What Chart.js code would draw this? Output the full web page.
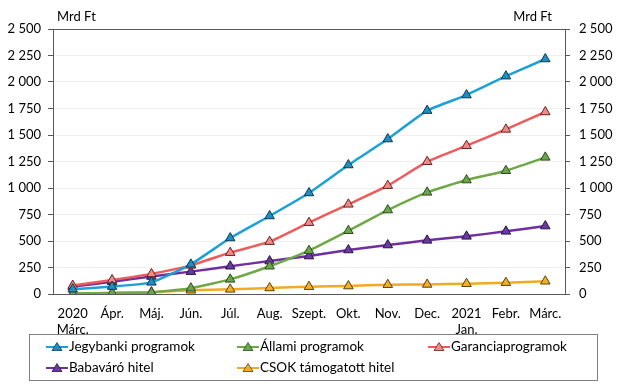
<!DOCTYPE html>
<html>
<head>
<meta charset="utf-8">
<script src="https://cdn.jsdelivr.net/npm/chart.js@4"></script>
<style>
  html, body { margin: 0; padding: 0; background: #fff; }
  #wrap { width: 619px; height: 387px; position: relative; }
</style>
</head>
<body>
<div id="wrap"><canvas id="myChart"></canvas></div>
<script>
const months = [['2020', 'Márc.'], 'Ápr.', 'Máj.', 'Jún.', 'Júl.', 'Aug.', 'Szept.', 'Okt.', 'Nov.', 'Dec.', ['2021', 'Jan.'], 'Febr.', 'Márc.'];

const jegybanki = [45, 70, 110, 280, 528, 736, 953, 1217, 1462, 1730, 1877, 2055, 2217];
const allami    = [5, 10, 15, 55, 138, 262, 409, 597, 792, 959, 1075, 1163, 1289];
const garancia  = [80, 132, 190, 270, 390, 494, 673, 846, 1022, 1248, 1399, 1553, 1717];
const babavaro  = [70, 116, 165, 211, 262, 311, 358, 415, 462, 506, 544, 591, 641];
const csok      = [5, 10, 18, 35, 44, 57, 69, 75, 88, 90, 97, 107, 120];

const yTicks = [0, 250, 500, 750, 1000, 1250, 1500, 1750, 2000, 2250, 2500];

const fontFam = 'Lato, "Open Sans", sans-serif';

function fmt(v) {
  return String(v).replace(/\B(?=(\d{3})+(?!\d))/g, ' ');
}

function series(label, data, line, fill, edge) {
  return {
    label: label,
    data: data,
    borderColor: line,
    backgroundColor: fill,
    pointBackgroundColor: fill,
    pointBorderColor: edge,
    pointBorderWidth: 1,
    pointStyle: 'triangle',
    pointRadius: 5.5,
    borderWidth: 2.5,
    tension: 0.15
  };
}

const datasets = [
  series('Jegybanki programok', jegybanki, '#1ba1d6', '#1d8fc2', '#103a4d'),
  series('Állami programok', allami, '#6fa846', '#6aa64a', '#2e4a1e'),
  series('Garanciaprogramok', garancia, '#ef5b5b', '#f08a86', '#6b2020'),
  series('Babaváró hitel', babavaro, '#6e30a0', '#6b3aa0', '#2a1540'),
  series('CSOK támogatott hitel', csok, '#f2aa22', '#f3b025', '#5a4010')
];

// legend layout: [dataset index, x of marker, row]
const legendSlots = [[0, 46, 0], [1, 237, 0], [2, 428, 0], [3, 46, 1], [4, 237, 1]];

const decor = {
  id: 'decor',
  afterDraw(chart) {
    const ctx = chart.ctx;
    const a = chart.chartArea;
    ctx.save();
    // top border of plot
    ctx.strokeStyle = '#595959';
    ctx.lineWidth = 1;
    ctx.beginPath();
    ctx.moveTo(a.left, a.top + 0.5);
    ctx.lineTo(a.right, a.top + 0.5);
    ctx.stroke();

    // unit labels
    ctx.fillStyle = '#000';
    ctx.font = '13px ' + fontFam;
    ctx.textBaseline = 'middle';
    ctx.textAlign = 'left';
    ctx.fillText('Mrd Ft', 57, 17);
    ctx.textAlign = 'right';
    ctx.fillText('Mrd Ft', 552, 17);

    // legend box
    ctx.strokeStyle = '#7f7f7f';
    ctx.strokeRect(29.5, 334.5, 568, 46);
    ctx.textAlign = 'left';
    ctx.font = '13.5px ' + fontFam;
    legendSlots.forEach(function (s) {
      const ds = chart.data.datasets[s[0]];
      const x = s[1];
      const y = s[2] === 0 ? 347 : 368;
      ctx.strokeStyle = ds.borderColor;
      ctx.lineWidth = 2;
      ctx.beginPath();
      ctx.moveTo(x, y);
      ctx.lineTo(x + 22, y);
      ctx.stroke();
      ctx.fillStyle = ds.pointBackgroundColor;
      ctx.strokeStyle = ds.pointBorderColor;
      ctx.lineWidth = 0.8;
      ctx.beginPath();
      ctx.moveTo(x + 11, y - 4.5);
      ctx.lineTo(x + 16, y + 3.5);
      ctx.lineTo(x + 6, y + 3.5);
      ctx.closePath();
      ctx.fill();
      ctx.stroke();
      ctx.fillStyle = '#000';
      ctx.fillText(ds.label, x + 23, y);
    });
    ctx.restore();
  }
};

const config = {
  type: 'line',
  data: { labels: months, datasets: datasets },
  options: {
    responsive: true,
    maintainAspectRatio: false,
    animation: false,
    layout: { padding: { top: 29, left: 0, right: 0, bottom: 0 } },
    scales: {
      x: {
        offset: true,
        grid: { display: false },
        border: { color: '#595959', width: 1 },
        ticks: {
          color: '#000',
          font: { family: fontFam, size: 13 },
          padding: 4,
          maxRotation: 0,
          autoSkip: false
        },
        afterFit(scale) { scale.height = 93; }
      },
      y: {
        position: 'left',
        min: 0,
        max: 2500,
        afterBuildTicks(scale) { scale.ticks = yTicks.map(v => ({ value: v })); },
        grid: { color: '#f0f0f0', tickColor: '#595959', tickLength: 5 },
        border: { color: '#595959', width: 1 },
        ticks: {
          color: '#000',
          font: { family: fontFam, size: 13 },
          padding: 7,
          callback: v => fmt(v)
        },
        afterFit(scale) { scale.width = 53; }
      },
      y2: {
        position: 'right',
        min: 0,
        max: 2500,
        afterBuildTicks(scale) { scale.ticks = yTicks.map(v => ({ value: v })); },
        grid: { drawOnChartArea: false, tickColor: '#595959', tickLength: 5 },
        border: { color: '#595959', width: 1 },
        ticks: {
          color: '#000',
          font: { family: fontFam, size: 13 },
          padding: 9,
          callback: v => fmt(v)
        },
        afterFit(scale) { scale.width = 54; }
      }
    },
    plugins: {
      legend: { display: false },
      tooltip: { enabled: false }
    }
  },
  plugins: [decor]
};

const myChart = new Chart(document.getElementById('myChart'), config);
</script>
</body>
</html>
